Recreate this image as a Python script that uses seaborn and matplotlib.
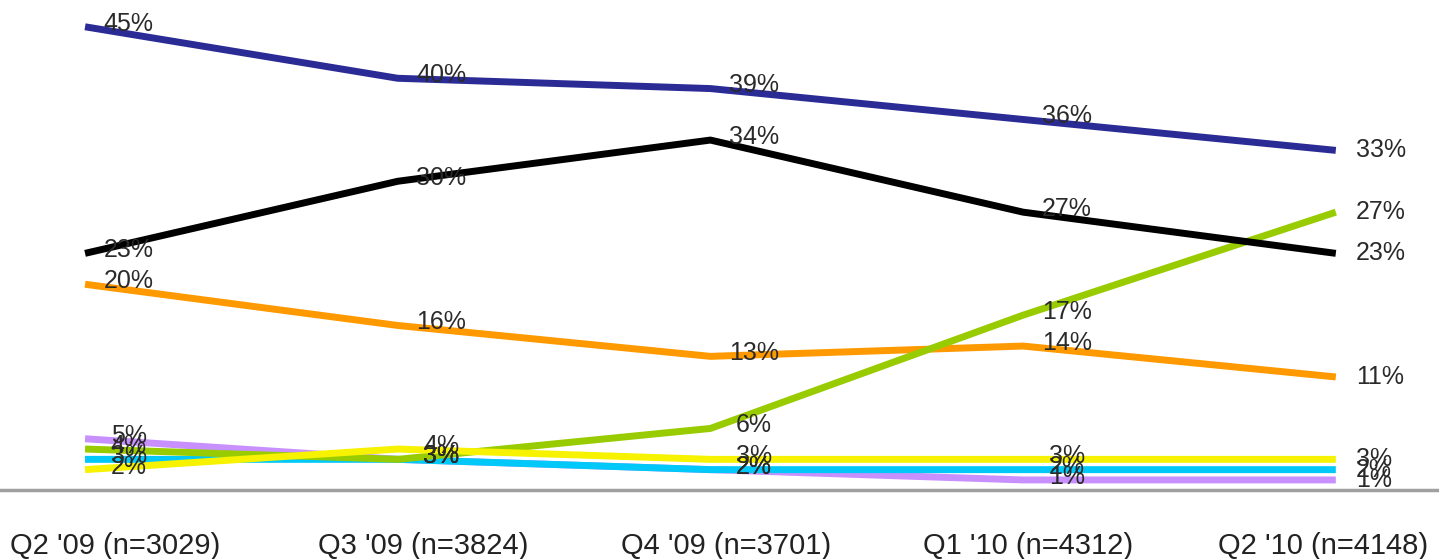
import numpy as np
import pandas as pd
import matplotlib
matplotlib.use("Agg")
import matplotlib.pyplot as plt
import seaborn as sns

quarters = ["Q2 '09 (n=3029)", "Q3 '09 (n=3824)", "Q4 '09 (n=3701)",
            "Q1 '10 (n=4312)", "Q2 '10 (n=4148)"]

blue   = [45, 40, 39, 36, 33]
black  = [23, 30, 34, 27, 23]
orange = [20, 16, 13, 14, 11]
green  = [4, 3, 6, 17, 27]
yellow = [2, 4, 3, 3, 3]
cyan   = [3, 3, 2, 2, 2]
purple = [5, 3, 2, 1, 1]

series = {"purple": purple, "cyan": cyan, "orange": orange, "green": green,
          "yellow": yellow, "black": black, "blue": blue}
palette = {"blue": "#2b2b96", "black": "#000000", "orange": "#ff9900",
           "green": "#99cc00", "yellow": "#f7f200", "cyan": "#00c8f8",
           "purple": "#c890ff"}

rows = []
for name, vals in series.items():
    for i, v in enumerate(vals):
        rows.append({"series": name, "x": i, "value": v})
df = pd.DataFrame(rows)

sns.set_style("white")
plt.rcParams["font.family"] = ["Liberation Sans", "DejaVu Sans"]

fig = plt.figure(figsize=(14.39, 5.59), dpi=100)
ax = fig.add_axes([0, 0.123, 1, 0.877])

sns.lineplot(data=df, x="x", y="value", hue="series", palette=palette,
             hue_order=list(series.keys()), linewidth=5, legend=False,
             ax=ax, solid_capstyle="butt")

txt = "#2a2a2a"
for name, vals in series.items():
    for i, v in enumerate(vals):
        if i < len(vals) - 1:
            ax.text(i + 0.14, v + 0.3, f"{v}%", ha="center", va="center",
                    fontsize=18, color=txt)
        else:
            ax.text(i + 0.065, v, f"{v}%", ha="left", va="center",
                    fontsize=18, color=txt)

ax.set_xlim(-0.272, 4.33)
ax.set_ylim(0, 47.6)
ax.set_xticks([0.096, 1.08, 2.05, 3.016, 3.96])
ax.set_xticklabels(quarters, fontsize=21, color="#222222")
ax.set_yticks([])
ax.set_xlabel("")
ax.set_ylabel("")
ax.tick_params(axis="x", length=0, pad=30)
for s in ["top", "left", "right"]:
    ax.spines[s].set_visible(False)
ax.spines["bottom"].set_color("#a0a0a0")
ax.spines["bottom"].set_linewidth(2.5)

fig.savefig("out.png", dpi=100, facecolor="white")
